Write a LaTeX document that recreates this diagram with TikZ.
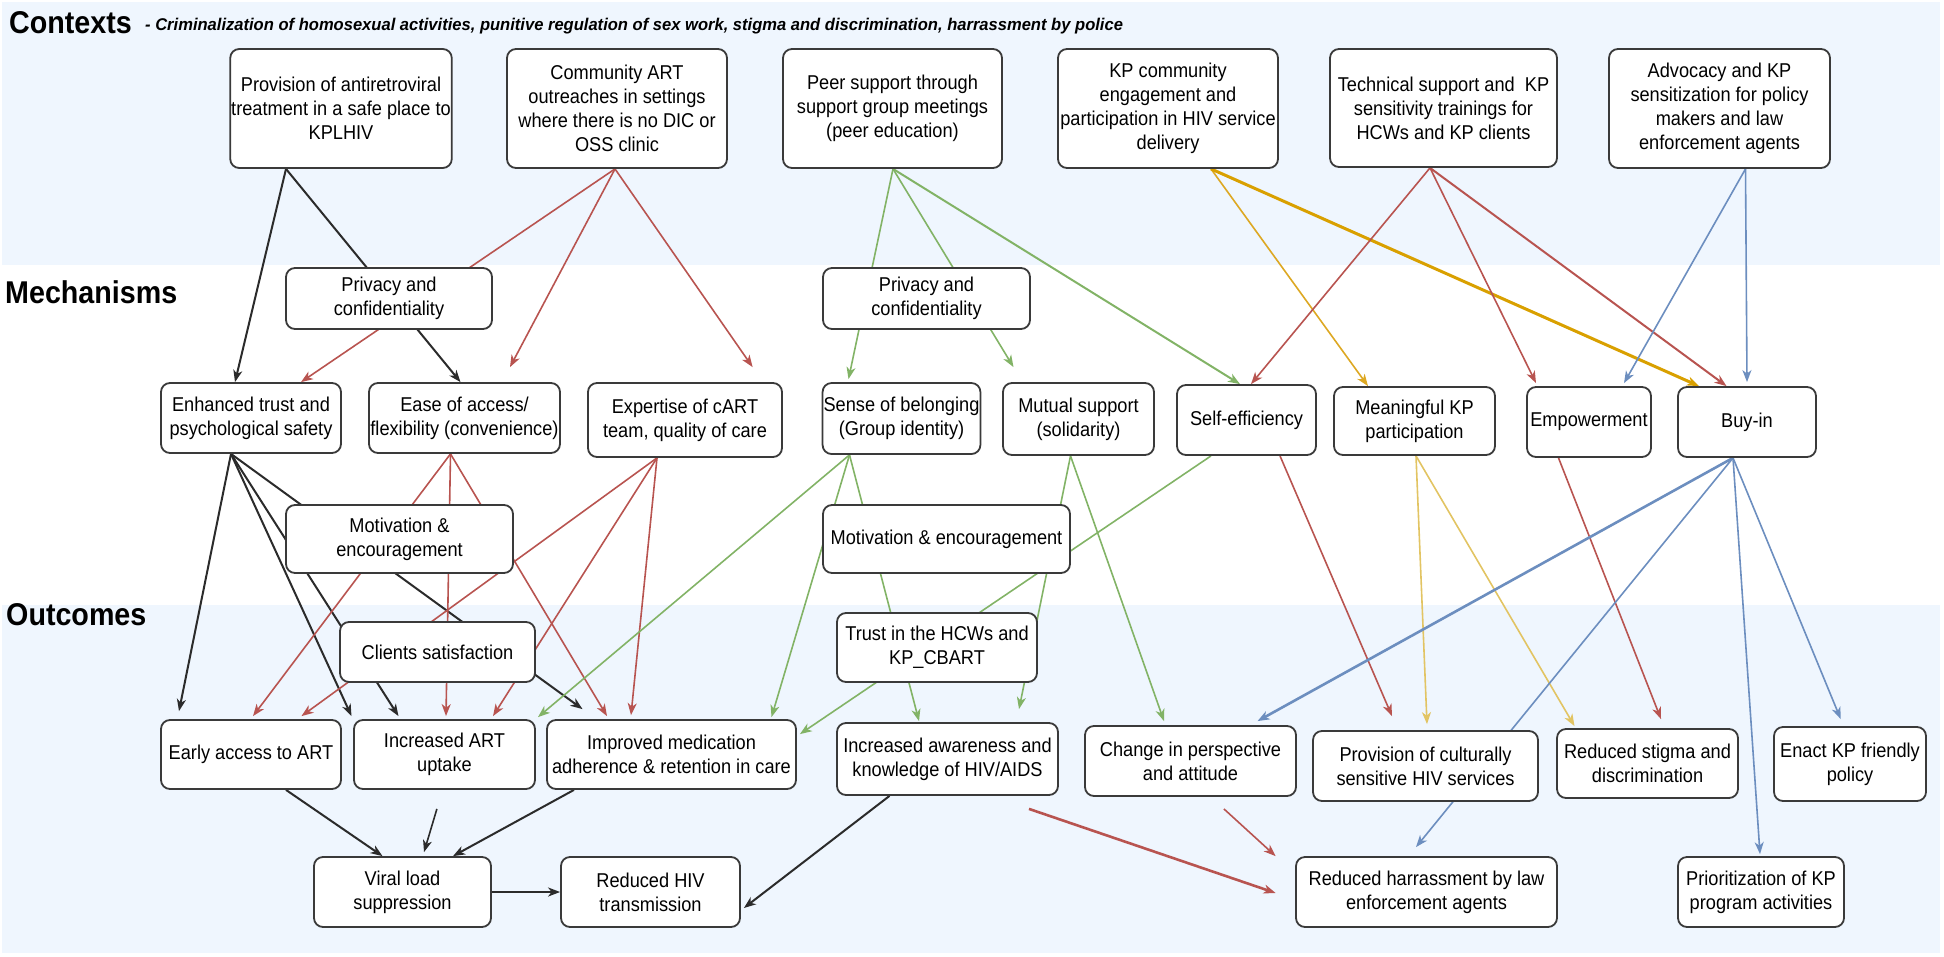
\documentclass[tikz,border=0pt]{standalone}
\usepackage{fontspec}
\setmainfont{Liberation Sans}[FakeStretch=0.91]
\usetikzlibrary{arrows.meta}
\definecolor{bandblue}{RGB}{239,246,254}
\definecolor{ered}{HTML}{B85450}
\definecolor{egreen}{HTML}{82B366}
\definecolor{eyellow}{HTML}{DDA823}
\definecolor{eyellowdk}{HTML}{D9A000}
\definecolor{eyellowlt}{HTML}{E2C463}
\definecolor{eblue}{HTML}{6C8EBF}
\definecolor{eblack}{HTML}{2B2B2B}
\definecolor{boxline}{HTML}{3A3A3A}
\pgfdeclarelayer{bands}
\pgfdeclarelayer{edges}
\pgfsetlayers{bands,edges,main}
\tikzset{
  box/.style={draw=boxline, line width=1.8pt, rounded corners=9pt, fill=white,
    align=center, inner sep=1pt, font=\fontsize{20}{24}\selectfont, text=black},
  con/.style={line width=1.6pt, -{Stealth[length=12pt,width=9pt,inset=3.5pt]}},
  blk/.style={con, eblack, line width=2pt},
  title/.style={anchor=base west, inner sep=0pt, font=\fontsize{31.5}{36}\selectfont\bfseries, text=black}
}
\newcommand\BX[6]{%
  \node[box, minimum width={(#3)-(#2)}, minimum height={(#5)-(#4)}] (#1)
    at ({((#2)+(#3))/2},{((#4)+(#5))/2}) {#6};}
\begin{document}
\begin{tikzpicture}[x=1pt,y=-1pt]
\useasboundingbox (0,0) rectangle (1944,956);
\begin{pgfonlayer}{bands}
  \fill[bandblue] (2,2) rectangle (1940,265);
  \fill[bandblue] (2,605) rectangle (1940,953);
\end{pgfonlayer}

% titles
\node[title] (tctx) at (9,33) {Contexts};
\node[anchor=base west, inner sep=0pt, font=\fontsize{17}{20}\selectfont\bfseries\itshape] (tsub) at (145,30.5)
  {\scalebox{1.07}[1]{- Criminalization of homosexual activities, punitive regulation of sex work, stigma and discrimination, harrassment by police}};
\node[title] (tmech) at (5,303) {Mechanisms};
\node[title] (tout) at (6,625) {Outcomes};

% contexts
\BX{ctx1}{231}{451}{49}{168}{Provision of antiretroviral\\treatment in a safe place to\\KPLHIV}
\BX{ctx2}{507}{727}{49}{168}{Community ART\\outreaches in settings\\where there is no DIC or\\OSS clinic}
\BX{ctx3}{783}{1002}{49}{168}{Peer support through\\support group meetings\\(peer education)}
\BX{ctx4}{1058}{1278}{49}{168}{KP community\\engagement and\\participation in HIV service\\delivery}
\BX{ctx5}{1330}{1557}{49}{167}{Technical support and\ \ KP\\sensitivity trainings for\\HCWs and KP clients}
\BX{ctx6}{1609}{1830}{49}{168}{Advocacy and KP\\sensitization for policy\\makers and law\\enforcement agents}

% mechanisms
\BX{priv1}{286}{492}{268}{329}{Privacy and\\confidentiality}
\BX{priv2}{823}{1030}{268}{329}{Privacy and\\confidentiality}
\BX{trust}{161}{341}{383}{453}{Enhanced trust and\\psychological safety}
\BX{ease}{369}{560}{383}{453}{Ease of access/\\flexibility (convenience)}
\BX{expert}{588}{782}{383}{457}{Expertise of cART\\team, quality of care}
\BX{belong}{823}{980}{383}{454}{Sense of belonging\\(Group identity)}
\BX{mutual}{1003}{1154}{383}{455}{Mutual support\\(solidarity)}
\BX{selfeff}{1177}{1316}{385}{455}{Self-efficiency}
\BX{meaning}{1334}{1495}{387}{455}{Meaningful KP\\participation}
\BX{empower}{1527}{1651}{387}{457}{Empowerment}
\BX{buyin}{1678}{1816}{387}{457}{Buy-in}
\BX{motiv1}{286}{513}{505}{573}{Motivation \&\\encouragement}
\BX{motiv2}{823}{1070}{505}{573}{Motivation \& encouragement}

% outcomes
\BX{clients}{340}{535}{622}{682}{Clients satisfaction}
\BX{hcw}{837}{1037}{613}{682}{Trust in the HCWs and\\KP\_CBART}
\BX{early}{161}{341}{720}{789}{Early access to ART}
\BX{uptake}{354}{535}{720}{789}{Increased ART\\uptake}
\BX{adher}{547}{796}{720}{789}{Improved medication\\adherence \& retention in care}
\BX{aware}{837}{1058}{723}{795}{Increased awareness and\\knowledge of HIV/AIDS}
\BX{change}{1085}{1296}{726}{796}{Change in perspective\\and attitude}
\BX{cultural}{1313}{1538}{731}{801}{Provision of culturally\\sensitive HIV services}
\BX{stigma}{1557}{1738}{729}{798}{Reduced stigma and\\discrimination}
\BX{enact}{1774}{1926}{727}{801}{Enact KP friendly\\policy}
\BX{viral}{314}{491}{857}{927}{Viral load\\suppression}
\BX{hiv}{561}{740}{857}{927}{Reduced HIV\\transmission}
\BX{harass}{1296}{1557}{857}{927}{Reduced harrassment by law\\enforcement agents}
\BX{prior}{1678}{1844}{857}{927}{Prioritization of KP\\program activities}

\begin{pgfonlayer}{edges}
% contexts -> mechanisms
\draw[blk] ([xshift=-55pt]ctx1.south) -- ([xshift=-16pt]trust.north);
\draw[blk] ([xshift=-55pt]ctx1.south) -- ([xshift=-4pt]ease.north);
\draw[con,ered] ([xshift=-2pt]ctx2.south) -- ([xshift=50pt]trust.north);
\draw[con,ered] ([xshift=-2pt]ctx2.south) -- ([xshift=45.5pt,yshift=15pt]ease.north);
\draw[con,ered] ([xshift=-2pt]ctx2.south) -- ([xshift=67.6pt,yshift=15pt]expert.north);
\draw[con,egreen] ([xshift=0.5pt]ctx3.south) -- ([xshift=-53pt,yshift=3pt]belong.north);
\draw[con,egreen] ([xshift=0.5pt]ctx3.south) -- ([xshift=-65pt,yshift=15pt]mutual.north);
\draw[con,egreen,line width=2pt] ([xshift=0.5pt]ctx3.south) -- ([xshift=-6.5pt]selfeff.north);
\draw[con,eyellow] ([xshift=43pt]ctx4.south) -- ([xshift=-46.5pt]meaning.north);
\draw[con,eyellowdk,line width=3pt] ([xshift=43pt]ctx4.south) -- ([xshift=-48pt]buyin.north);
\draw[con,ered] ([xshift=-13.5pt]ctx5.south) -- ([xshift=4.5pt]selfeff.north);
\draw[con,ered] ([xshift=-13.5pt]ctx5.south) -- ([xshift=-53pt,yshift=3pt]empower.north);
\draw[con,ered,line width=2pt] ([xshift=-13.5pt]ctx5.south) -- ([xshift=-20.5pt]buyin.north);
\draw[con,eblue] ([xshift=26pt]ctx6.south) -- ([xshift=35pt,yshift=3pt]empower.north);
\draw[con,eblue] ([xshift=26pt]ctx6.south) -- ([yshift=4pt]buyin.north);
% mechanisms -> outcomes
\draw[blk] ([xshift=-20pt]trust.south) -- ([xshift=-72pt,yshift=8pt]early.north);
\draw[blk] ([xshift=-20pt]trust.south) -- ([xshift=-93pt,yshift=3pt]uptake.north);
\draw[blk] ([xshift=-20pt]trust.south) -- ([xshift=-46pt,yshift=3pt]uptake.north);
\draw[blk] ([xshift=-20pt]trust.south) -- ([xshift=-89pt,yshift=10pt]adher.north);
\draw[con,ered] ([xshift=-14pt]ease.south) -- ([xshift=2pt,yshift=3pt]early.north);
\draw[con,ered] ([xshift=-14pt]ease.south) -- ([xshift=1.5pt,yshift=3pt]uptake.north);
\draw[con,ered] ([xshift=-14pt]ease.south) -- ([xshift=-64.5pt,yshift=3pt]adher.north);
\draw[con,ered] ([xshift=-28pt]expert.south) -- ([xshift=50.5pt,yshift=3pt]early.north);
\draw[con,ered] ([xshift=-28pt]expert.south) -- ([xshift=48.5pt,yshift=3pt]uptake.north);
\draw[con,ered] ([xshift=-28pt]expert.south) -- ([xshift=-40.5pt,yshift=4pt]adher.north);
\draw[con,egreen] ([xshift=-52pt]belong.south) -- ([xshift=93.5pt,yshift=2pt]uptake.north);
\draw[con,egreen] ([xshift=-52pt]belong.south) -- ([xshift=100pt,yshift=2pt]adher.north);
\draw[con,egreen] ([xshift=-52pt]belong.south) -- ([xshift=-28.5pt,yshift=1pt]aware.north);
\draw[con,egreen] ([xshift=-8pt]mutual.south) -- ([xshift=71.5pt,yshift=13pt]aware.north);
\draw[con,egreen] ([xshift=-8pt]mutual.south) -- ([xshift=-26.5pt,yshift=4pt]change.north);
\draw[con,egreen] ([xshift=-35.5pt]selfeff.south) -- ([xshift=3pt,yshift=-15pt]adher.north east);
\draw[con,ered] ([xshift=33.5pt]selfeff.south) -- ([xshift=-33.5pt,yshift=14pt]cultural.north);
\draw[con,eyellowlt] ([xshift=1.5pt]meaning.south) -- ([xshift=1.5pt,yshift=6pt]cultural.north);
\draw[con,eyellowlt] ([xshift=1.5pt]meaning.south) -- ([xshift=-73pt,yshift=2pt]stigma.north);
\draw[con,ered] ([xshift=-30.5pt]empower.south) -- ([xshift=13.5pt,yshift=9pt]stigma.north);
\draw[con,eblue,line width=2.6pt] ([xshift=-14pt]buyin.south) -- ([xshift=67pt,yshift=4pt]change.north);
\draw[con,eblue] ([xshift=-14pt]buyin.south) -- ([xshift=-10.5pt,yshift=9pt]harass.north);
\draw[con,eblue] ([xshift=-14pt]buyin.south) -- ([xshift=-1pt,yshift=2pt]prior.north);
\draw[con,eblue] ([xshift=-14pt]buyin.south) -- ([xshift=-9.3pt,yshift=7pt]enact.north);
% outcomes
\draw[blk] ([xshift=35pt]early.south) -- ([xshift=-20pt]viral.north);
\draw[blk,line width=1.6pt] ([xshift=-7.6pt,yshift=-19pt]uptake.south) -- ([xshift=21.5pt,yshift=4pt]viral.north);
\draw[blk] ([xshift=-97.5pt]adher.south) -- ([xshift=50.5pt]viral.north);
\draw[blk,line width=2.6pt] (viral.east) -- (hiv.west);
\draw[blk] ([xshift=-58pt]aware.south) -- ([xshift=3pt,yshift=-16pt]hiv.east);
\draw[con,ered,line width=2.6pt] ([xshift=81.5pt,yshift=-13pt]aware.south) -- ([xshift=-19.5pt,yshift=-1pt]harass.west);
\draw[con,ered] ([xshift=33.4pt,yshift=-12pt]change.south) -- ([xshift=-19.5pt]harass.north west);
\end{pgfonlayer}
\end{tikzpicture}
\end{document}
